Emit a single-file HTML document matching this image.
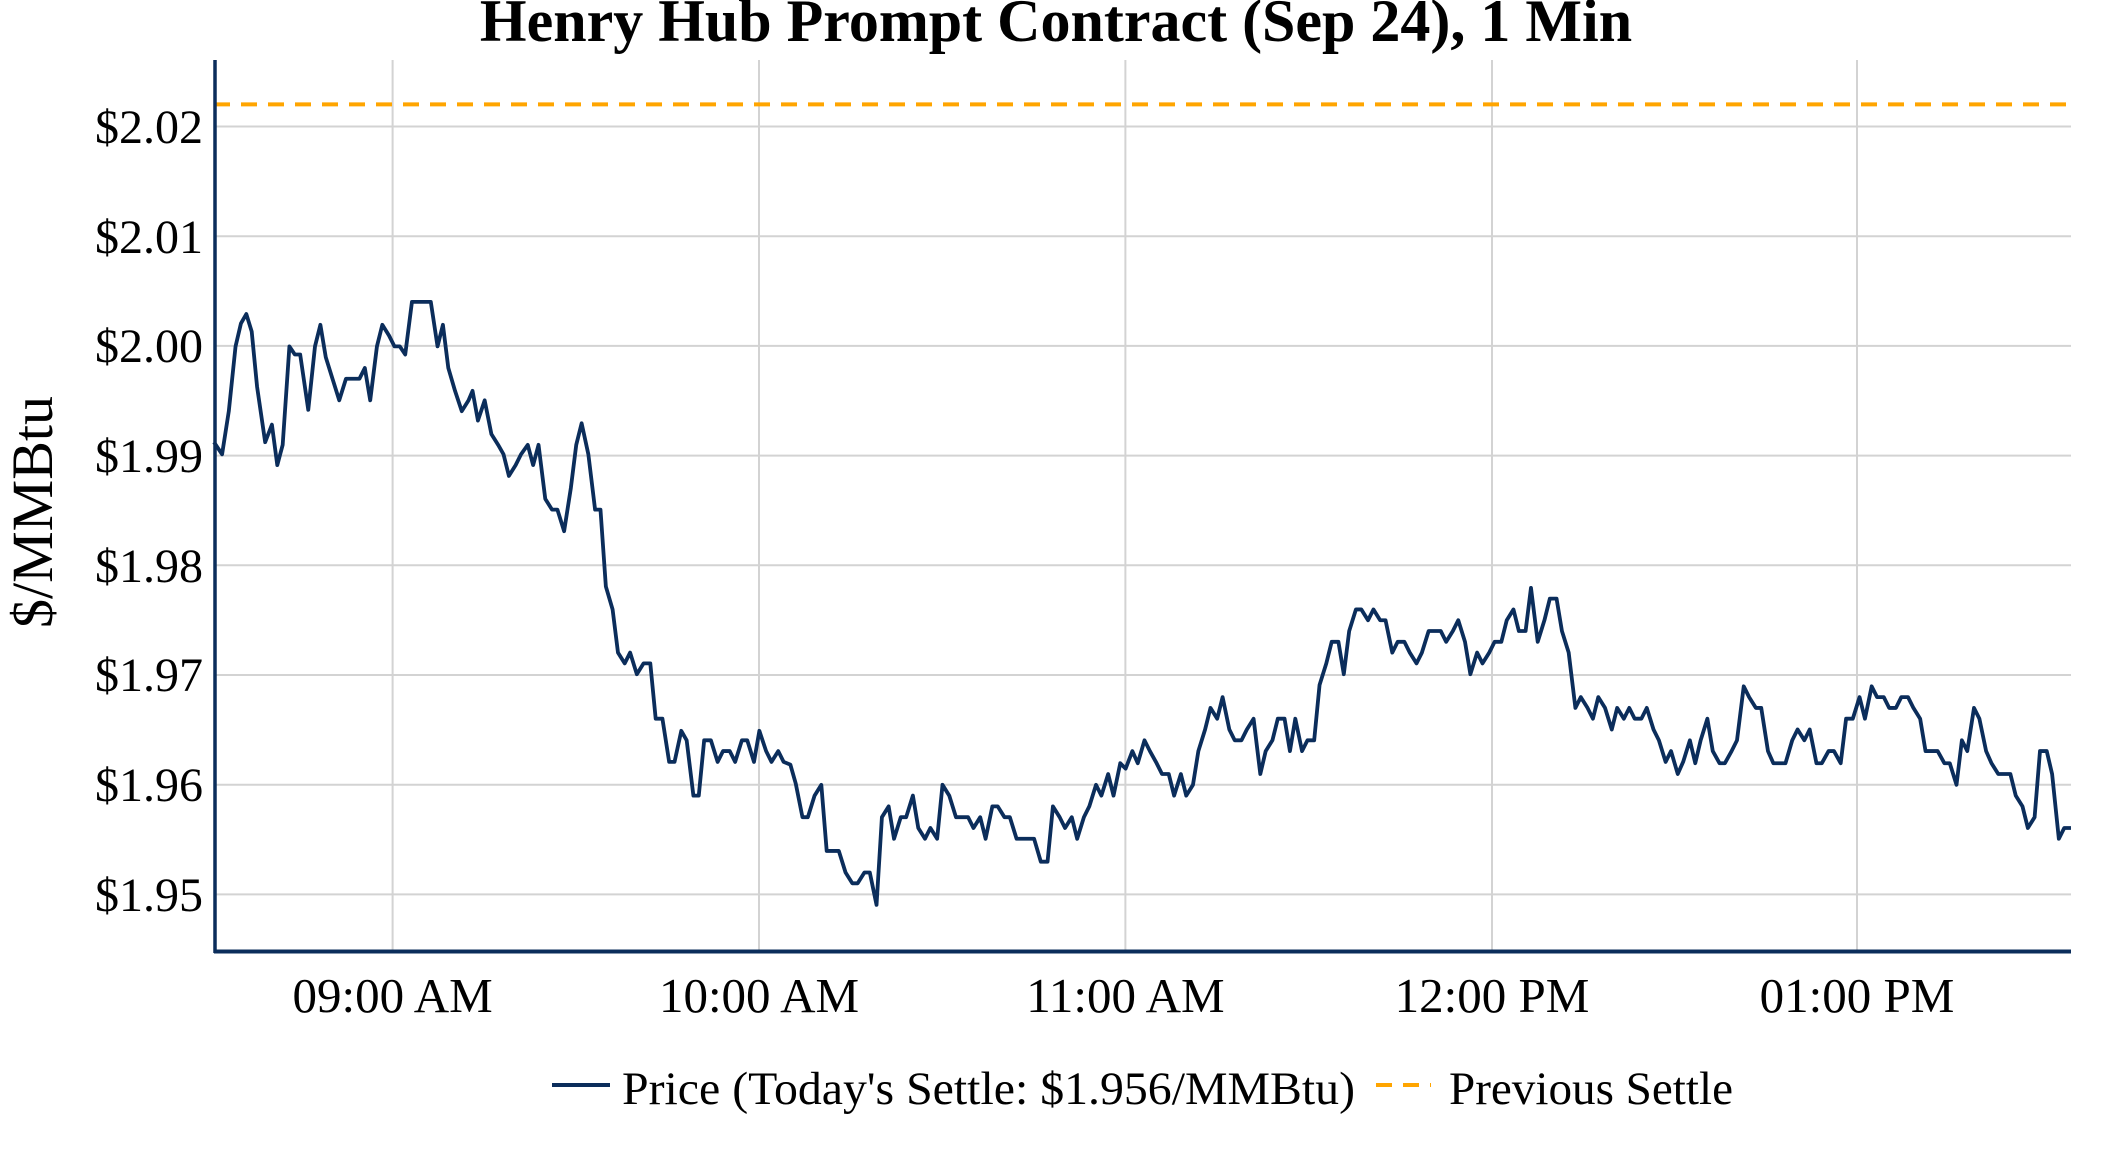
<!DOCTYPE html>
<html><head><meta charset="utf-8"><style>html,body{margin:0;padding:0;background:#fff}svg{display:block}</style></head>
<body>
<svg width="2112" height="1152" viewBox="0 0 2112 1152" xmlns="http://www.w3.org/2000/svg" font-family="'Liberation Serif', serif">
<rect width="2112" height="1152" fill="#fff"/>
<g stroke="#d3d3d3" stroke-width="2">
<line x1="214" x2="2071" y1="126.5" y2="126.5"/>
<line x1="214" x2="2071" y1="236.2" y2="236.2"/>
<line x1="214" x2="2071" y1="345.9" y2="345.9"/>
<line x1="214" x2="2071" y1="455.6" y2="455.6"/>
<line x1="214" x2="2071" y1="565.3" y2="565.3"/>
<line x1="214" x2="2071" y1="675" y2="675"/>
<line x1="214" x2="2071" y1="784.7" y2="784.7"/>
<line x1="214" x2="2071" y1="894.4" y2="894.4"/>
<line x1="392.6" x2="392.6" y1="60" y2="951"/>
<line x1="759" x2="759" y1="60" y2="951"/>
<line x1="1125.4" x2="1125.4" y1="60" y2="951"/>
<line x1="1492" x2="1492" y1="60" y2="951"/>
<line x1="1857" x2="1857" y1="60" y2="951"/>
</g>
<line x1="214" x2="2071" y1="104.4" y2="104.4" stroke="#ffa500" stroke-width="4" stroke-dasharray="16,11"/>
<polyline fill="none" stroke="#0b2d5b" stroke-width="3.8" stroke-linejoin="round" vector-effect="non-scaling-stroke" transform="translate(214,126.5) scale(1.3466,1.349) translate(-158,-94)" points="158,328 164,337 169,305 174,257 178,240 182,233 186,246 190,287 196,328 201,315 205,345 209,330 214,257 218,263 222,263 228,304 233,257 237,241 241,265 246,281 251,297 256,281 262,281 266,281 270,273 274,297 279,257 283,241 288,249 292,257 296,257 300,263 305,224 310,224 316,224 319,224 324,257 328,241 332,273 337,290 342,305 347,297 350,290 354,312 359,297 364,322 369,330 373,337 377,353 382,345 386,337 391,330 395,345 399,330 404,370 409,378 413,378 418,394 423,362 427,330 431,314 436,337 441,378 445,378 449,435 454,452 458,484 463,492 467,484 472,500 477,492 482,492 486,533 491,533 496,565 500,565 505,542 509,549 514,590 518,590 522,549 527,549 532,565 536,557 541,557 545,565 550,549 554,549 559,565 563,542 568,557 572,565 577,557 581,565 586,567 590,581 595,606 599,606 604,590 609,582 613,631 618,631 622,631 627,647 632,655 636,655 641,647 645,647 650,671 654,606 659,598 663,622 668,606 672,606 677,590 681,614 686,622 690,614 695,622 699,582 704,590 709,606 713,606 718,606 722,614 727,606 731,622 736,598 740,598 745,606 749,606 754,622 758,622 763,622 767,622 772,639 777,639 781,598 786,606 790,614 795,606 799,622 804,606 808,598 813,582 817,590 822,574 826,590 831,566 835,570 840,557 844,566 849,549 853,557 858,566 862,574 867,574 871,590 876,574 880,590 885,582 889,557 894,541 898,525 903,533 907,517 912,541 916,549 921,549 925,541 930,533 935,574 939,557 944,549 948,533 953,533 957,557 961,533 966,557 970,549 975,549 979,508 984,492 988,476 993,476 997,500 1001,468 1006,452 1010,452 1015,460 1019,452 1024,460 1028,460 1033,484 1037,476 1042,476 1046,484 1051,492 1055,484 1060,468 1064,468 1069,468 1073,476 1078,468 1082,460 1087,476 1091,500 1096,484 1100,492 1105,484 1109,476 1114,476 1118,460 1123,452 1127,468 1132,468 1136,436 1141,476 1146,460 1150,444 1155,444 1159,468 1164,484 1169,525 1173,517 1178,525 1182,533 1186,517 1191,525 1196,541 1200,525 1205,533 1209,525 1213,533 1218,533 1222,525 1227,541 1231,549 1236,565 1240,557 1245,574 1249,565 1254,549 1258,566 1262,549 1267,533 1271,557 1276,566 1280,566 1285,557 1289,549 1294,509 1298,517 1303,525 1307,525 1312,557 1316,566 1321,566 1325,566 1330,549 1334,541 1339,549 1343,541 1348,566 1352,566 1357,557 1361,557 1366,566 1370,533 1375,533 1380,517 1384,533 1389,509 1393,517 1398,517 1402,525 1407,525 1411,517 1416,517 1420,525 1425,533 1429,557 1434,557 1438,557 1443,566 1447,566 1452,582 1456,549 1460,557 1465,525 1469,533 1474,557 1478,566 1483,574 1487,574 1492,574 1496,590 1501,598 1505,614 1510,606 1514,557 1519,557 1523,574 1528,622 1532,614 1537,614"/>
<line x1="215" x2="215" y1="60" y2="953" stroke="#0b2d5b" stroke-width="3.5"/>
<line x1="214" x2="2071" y1="951.5" y2="951.5" stroke="#0b2d5b" stroke-width="4"/>
<g font-size="48" fill="#000" text-anchor="end">
<text x="203" y="143">$2.02</text>
<text x="203" y="253">$2.01</text>
<text x="203" y="362">$2.00</text>
<text x="203" y="472">$1.99</text>
<text x="203" y="582">$1.98</text>
<text x="203" y="691">$1.97</text>
<text x="203" y="801">$1.96</text>
<text x="203" y="911">$1.95</text>
</g>
<g font-size="49" fill="#000" text-anchor="middle">
<text x="392.6" y="1012">09:00 AM</text>
<text x="759" y="1012">10:00 AM</text>
<text x="1125.4" y="1012">11:00 AM</text>
<text x="1492" y="1012">12:00 PM</text>
<text x="1857" y="1012">01:00 PM</text>
</g>
<text transform="translate(52,512) rotate(-90)" font-size="58" text-anchor="middle">$/MMBtu</text>
<text x="1056" y="41" font-size="60" font-weight="bold" text-anchor="middle">Henry Hub Prompt Contract (Sep 24), 1 Min</text>
<line x1="552" x2="610" y1="1085" y2="1085" stroke="#0b2d5b" stroke-width="4"/>
<text x="622" y="1104" font-size="47" textLength="733" lengthAdjust="spacingAndGlyphs">Price (Today's Settle: $1.956/MMBtu)</text>
<line x1="1376" x2="1431" y1="1085" y2="1085" stroke="#ffa500" stroke-width="4" stroke-dasharray="16,11"/>
<text x="1449" y="1104" font-size="47" textLength="284" lengthAdjust="spacingAndGlyphs">Previous Settle</text>
</svg>
</body></html>
